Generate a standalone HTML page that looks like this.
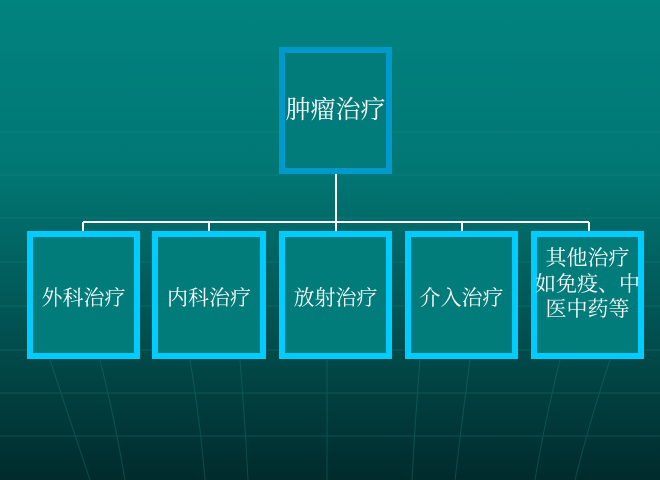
<!DOCTYPE html>
<html><head><meta charset="utf-8"><style>
body{margin:0;width:660px;height:480px;overflow:hidden;position:relative;
background:linear-gradient(#018380 0%,#017774 35%,#015c5b 60%,#013c3c 85%,#012b2d 100%);
font-family:"Liberation Serif","Noto Serif CJK SC",serif;color:#fff}
.b{position:absolute;box-sizing:border-box;border:6px solid #00ccff;background:#017c7a;display:flex;align-items:center;justify-content:center;text-align:center;font-size:21px;line-height:25.5px;padding-top:8px}
svg{position:absolute;left:0;top:0}
</style></head><body>
<svg width="660" height="480">
<g stroke="#2a8f8c" stroke-width="1" fill="none" opacity="0.3">
<line x1="0" y1="132" x2="660" y2="132"/><line x1="0" y1="175" x2="660" y2="175"/>
<line x1="0" y1="218" x2="660" y2="218"/><line x1="0" y1="262" x2="660" y2="262"/>
<line x1="0" y1="306" x2="660" y2="306"/><line x1="0" y1="350" x2="660" y2="350"/>
<line x1="0" y1="393" x2="660" y2="393"/><line x1="0" y1="436" x2="660" y2="436"/>
<path d="M50 360 Q70 420 90 480"/><path d="M100 360 Q115 420 125 480"/>
<path d="M190 360 Q200 420 205 480"/><path d="M240 360 Q245 420 248 480"/>
<path d="M327 360 L327 480"/><path d="M420 360 Q415 420 412 480"/>
<path d="M470 360 Q462 420 455 480"/><path d="M560 360 Q545 420 535 480"/>
<path d="M610 360 Q590 420 575 480"/>
</g>
<g stroke="#fff" stroke-width="2" fill="none">
<line x1="336" y1="174" x2="336" y2="232"/>
<line x1="83" y1="222" x2="589" y2="222"/>
<line x1="83" y1="222" x2="83" y2="232"/><line x1="209" y1="222" x2="209" y2="232"/>
<line x1="462" y1="222" x2="462" y2="232"/><line x1="589" y1="222" x2="589" y2="232"/>
</g>
</svg>
<div class="b" style="left:279px;top:47px;width:113px;height:127px;border-color:#0099cc;font-size:25px;padding-top:0">肿瘤治疗</div>
<div class="b" style="left:27px;top:231px;width:113px;height:128px">外科治疗</div>
<div class="b" style="left:152px;top:231px;width:114px;height:128px">内科治疗</div>
<div class="b" style="left:279px;top:231px;width:113px;height:128px">放射治疗</div>
<div class="b" style="left:405px;top:231px;width:113px;height:128px">介入治疗</div>
<div class="b" style="left:531px;top:231px;width:113px;height:128px;align-items:flex-start;padding-top:9px"><div style="margin:0 -8px;white-space:nowrap">其他治疗<br>如免疫、中<br>医中药等</div></div>
</body></html>
